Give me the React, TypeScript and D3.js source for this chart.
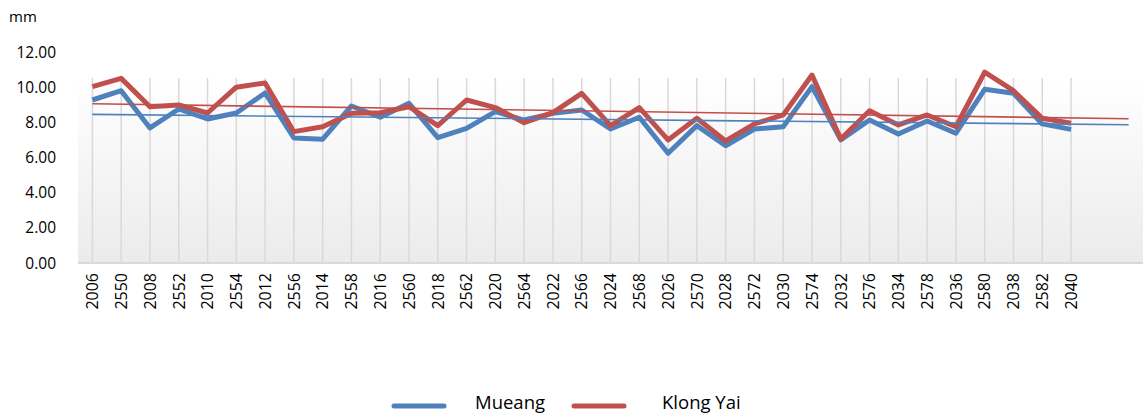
import React from "react";
import * as d3 from "d3";

// category labels as they appear on the axis (years mixed with Thai BE years)
const categories = [
  "2006", "2550", "2008", "2552", "2010", "2554", "2012", "2556", "2014", "2558",
  "2016", "2560", "2018", "2562", "2020", "2564", "2022", "2566", "2024", "2568",
  "2026", "2570", "2028", "2572", "2030", "2574", "2032", "2576", "2034", "2578",
  "2036", "2580", "2038", "2582", "2040",
];

const mueang = [
  9.27, 9.8, 7.68, 8.76, 8.19, 8.53, 9.67, 7.11, 7.04, 8.93,
  8.29, 9.08, 7.13, 7.66, 8.61, 8.13, 8.51, 8.7, 7.62, 8.29,
  6.24, 7.81, 6.67, 7.62, 7.75, 10.03, 7.0, 8.13, 7.34, 8.08,
  7.38, 9.88, 9.65, 7.91, 7.6,
];

const klongYai = [
  10.03, 10.5, 8.89, 8.99, 8.53, 10.0, 10.24, 7.47, 7.75, 8.51,
  8.55, 8.89, 7.81, 9.27, 8.84, 7.98, 8.55, 9.65, 7.81, 8.84,
  7.0, 8.23, 6.94, 7.91, 8.42, 10.69, 7.05, 8.66, 7.85, 8.42,
  7.75, 10.85, 9.8, 8.23, 7.95,
];

const yTicks = [0, 2, 4, 6, 8, 10, 12];

// excel trendline forecasts 2 periods forward
const forward = 2;

const series = [
  { name: "Mueang", values: mueang, color: "#4F81BD" },
  { name: "Klong Yai", values: klongYai, color: "#C0504D" },
];

function linReg(vals: number[]) {
  const mx = d3.mean(vals, (_, i) => i) as number;
  const my = d3.mean(vals) as number;
  let sxy = 0;
  let sxx = 0;
  vals.forEach((v, i) => {
    sxy += (i - mx) * (v - my);
    sxx += (i - mx) * (i - mx);
  });
  const slope = sxy / sxx;
  return (i: number) => my + slope * (i - mx);
}

export default function App() {
  const width = 1143;
  const height = 415;
  const plotLeft = 78;
  const plotRight = 1143;
  const plotTop = 78;

  const slots = d3.range(categories.length + forward);
  const x = d3.scaleBand<number>().domain(slots).range([plotLeft, plotRight]);
  const cx = (i: number) => (x(i) as number) + x.bandwidth() / 2;
  const y = d3.scaleLinear().domain([0, 12]).range([263, 52]);

  const line = d3
    .line<number>()
    .x((_, i) => cx(i))
    .y((d) => y(d));

  const font = "'Open Sans', sans-serif";
  // legend: line start / text start for each entry
  const legendPos = [
    { line: 394, text: 475 },
    { line: 574, text: 662 },
  ];

  return (
    <svg
      width={width}
      height={height}
      style={{ position: "absolute", left: 0, top: 0, background: "#fff" }}
    >
      <defs>
        <linearGradient id="plotBg" x1="0" y1="0" x2="0" y2="1">
          <stop offset="0" stopColor="#ffffff" />
          <stop offset="1" stopColor="#ebebeb" />
        </linearGradient>
      </defs>

      <text x={9} y={22} fontFamily={font} fontSize={15} fill="#000">
        mm
      </text>

      <rect
        x={plotLeft}
        y={plotTop}
        width={plotRight - plotLeft}
        height={y(0) - plotTop}
        fill="url(#plotBg)"
      />

      {/* vertical gridlines */}
      {categories.map((c, i) => (
        <line
          key={"g" + c + i}
          x1={cx(i)}
          x2={cx(i)}
          y1={plotTop}
          y2={y(0)}
          stroke="#d9d9d9"
          strokeWidth={1.5}
        />
      ))}

      <line
        x1={plotLeft}
        x2={plotRight}
        y1={y(0)}
        y2={y(0)}
        stroke="#d9d9d9"
        strokeWidth={2}
      />

      {yTicks.map((t) => (
        <text
          key={t}
          x={56}
          y={y(t)}
          dy="0.36em"
          textAnchor="end"
          fontFamily={font}
          fontSize={15.5}
          fill="#000"
        >
          {t.toFixed(2)}
        </text>
      ))}

      {categories.map((c, i) => (
        <text
          key={"l" + c + i}
          transform={`translate(${cx(i)},273) rotate(-90)`}
          dy="0.36em"
          textAnchor="end"
          fontFamily={font}
          fontSize={16}
          fill="#000"
        >
          {c}
        </text>
      ))}

      {series.map((s) => (
        <path
          key={s.name}
          d={line(s.values) as string}
          fill="none"
          stroke={s.color}
          strokeWidth={5}
          strokeLinejoin="round"
        />
      ))}

      {series.map((s) => {
        const f = linReg(s.values);
        const last = slots.length - 1;
        return (
          <line
            key={"t" + s.name}
            x1={cx(0)}
            x2={cx(last)}
            y1={y(f(0))}
            y2={y(f(last))}
            stroke={s.color}
            strokeWidth={1.6}
          />
        );
      })}

      {/* legend */}
      {series.map((s, i) => (
        <g key={"lg" + s.name}>
          <line
            x1={legendPos[i].line}
            x2={legendPos[i].line + 50}
            y1={406}
            y2={406}
            stroke={s.color}
            strokeWidth={5}
            strokeLinecap="round"
          />
          <text
            x={legendPos[i].text}
            y={402}
            dy="0.36em"
            fontFamily={font}
            fontSize={18.5}
            fill="#000"
          >
            {s.name}
          </text>
        </g>
      ))}
    </svg>
  );
}
